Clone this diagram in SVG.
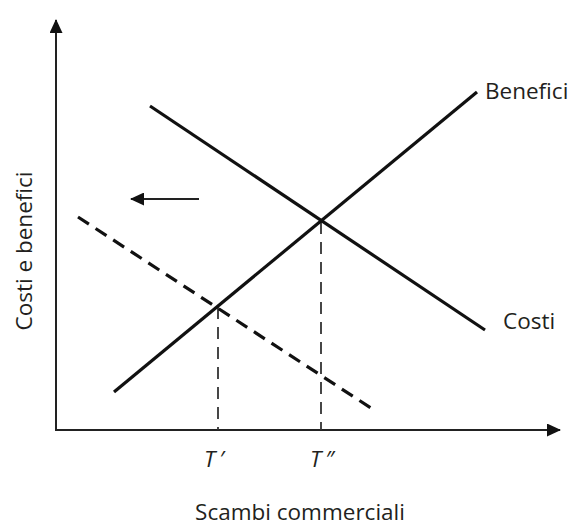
<svg xmlns="http://www.w3.org/2000/svg" width="571" height="526" viewBox="0 0 571 526">
<style>
.txt{font-family:"Open Sans","Noto Sans",sans-serif;fill:#231f20;font-size:22.5px}
.it{font-style:italic}
.solid{stroke:#111;stroke-width:3.2;fill:none}
.axis{stroke:#222;stroke-width:2;fill:none}
.dash{stroke:#111;stroke-width:3.2;fill:none;stroke-dasharray:13 8}
.vdash{stroke:#333;stroke-width:1.8;fill:none;stroke-dasharray:12 8}
</style>
<defs>
<marker id="ah" viewBox="0 0 14 13" refX="13" refY="6.5" markerWidth="14" markerHeight="13" markerUnits="userSpaceOnUse" orient="auto">
<path d="M0,0 L14,6.5 L0,13 Z" fill="#111"/>
</marker>
</defs>
<g id="connectors">
<line class="axis" x1="56" y1="431" x2="56" y2="20" marker-end="url(#ah)"/>
<line class="axis" x1="55" y1="430" x2="560" y2="430" marker-end="url(#ah)"/>
<line class="vdash" x1="321" y1="222" x2="321" y2="430"/>
<line class="vdash" x1="218" y1="307" x2="218" y2="430"/>
<line class="dash" x1="78" y1="217" x2="374" y2="410"/>
<line class="solid" x1="150" y1="106" x2="485" y2="330"/>
<line class="solid" x1="114" y1="392" x2="477" y2="92"/>
<line class="axis" stroke-width="2.4" x1="199" y1="199" x2="131" y2="199" marker-end="url(#ah)"/>
</g>
<g id="label-benefici"><text class="txt" x="485" y="99">Benefici</text></g>
<g id="label-costi"><text class="txt" x="503" y="329">Costi</text></g>
<g id="label-t1"><text class="txt it" x="204" y="467">T<tspan dx="4">′</tspan></text></g>
<g id="label-t2"><text class="txt it" x="310" y="467">T<tspan dx="4">″</tspan></text></g>
<g id="label-x"><text class="txt" x="300" y="520" text-anchor="middle">Scambi commerciali</text></g>
<g id="label-y"><text class="txt" font-size="23" transform="translate(32,251) rotate(-90)" text-anchor="middle">Costi e benefici</text></g>
</svg>
